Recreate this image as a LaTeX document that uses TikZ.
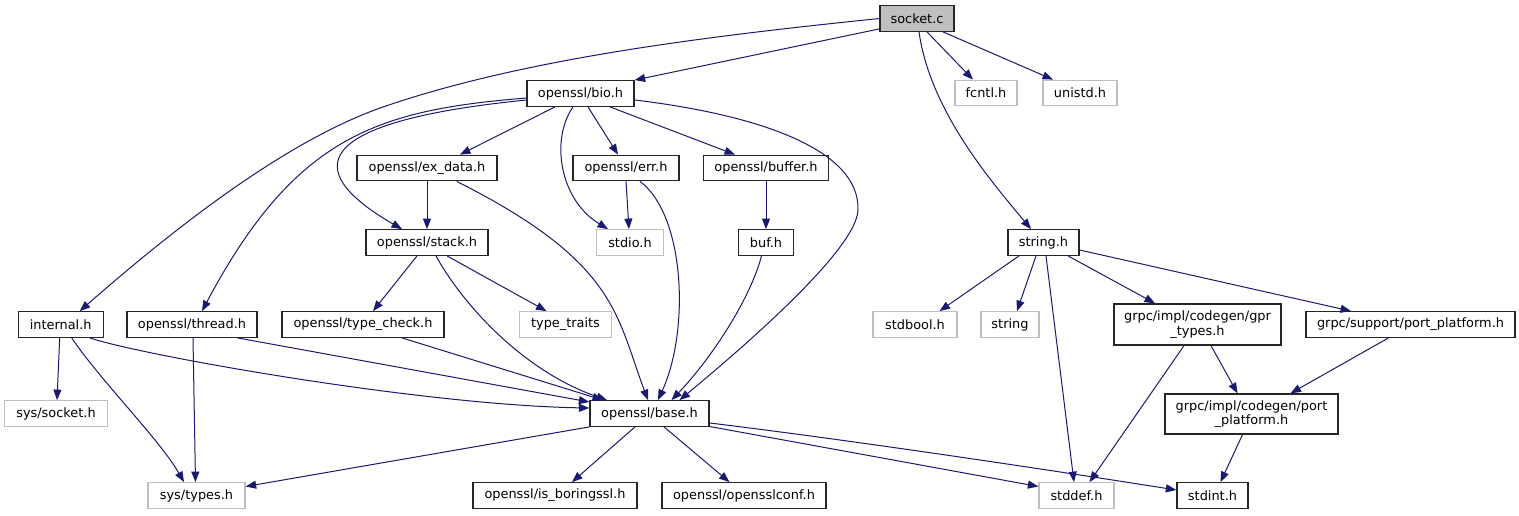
\documentclass[tikz,border=0pt]{standalone}
\usepackage{fontspec}
\setmainfont{DejaVu Sans}
\usetikzlibrary{arrows.meta}
\definecolor{edgeblue}{HTML}{191970}
\definecolor{sysgray}{HTML}{BFBFBF}
\begin{document}
\begin{tikzpicture}[x=1pt, y=-1pt,
  hdr/.style={draw=black!85, line width=1.3pt, fill=white, inner sep=0pt, minimum height=25.5pt, font=\fontsize{12.9}{14.5}\selectfont, align=center},
  sys/.style={hdr, draw=sysgray},
  src/.style={hdr, fill=sysgray},
  dep/.style={draw=edgeblue, line width=1pt, -{Triangle[length=10.5pt,width=8pt]}}]
\useasboundingbox (0,0) rectangle (1519,515);

% nodes
\node[src, minimum width=74pt] (socket) at (917,18.5) {socket.c};
\node[hdr, minimum width=107pt] (bio) at (580.5,93.5) {openssl/bio.h};
\node[sys, minimum width=62pt] (fcntl) at (986,93) {fcntl.h};
\node[sys, minimum width=74pt] (unistd) at (1080,93) {unistd.h};
\node[hdr, minimum width=140pt] (exdata) at (427,168) {openssl/ex\_data.h};
\node[hdr, minimum width=106pt] (err) at (626,168) {openssl/err.h};
\node[hdr, minimum width=125pt] (buffer) at (766,168) {openssl/buffer.h};
\node[hdr, minimum width=122pt] (stack) at (427,242.5) {openssl/stack.h};
\node[sys, minimum width=67pt] (stdio) at (630,242.5) {stdio.h};
\node[hdr, minimum width=55pt] (buf) at (766,242.5) {buf.h};
\node[hdr, minimum width=71pt] (stringh) at (1043.5,242.5) {string.h};
\node[hdr, minimum width=85pt] (internal) at (60.7,324.5) {internal.h};
\node[hdr, minimum width=130pt] (thread) at (192,324.5) {openssl/thread.h};
\node[hdr, minimum width=162pt] (typecheck) at (363,324.5) {openssl/type\_check.h};
\node[sys, minimum width=92pt] (typetraits) at (565.5,324.5) {type\_traits};
\node[sys, minimum width=84pt] (stdbool) at (915,324.5) {stdbool.h};
\node[sys, minimum width=58pt] (string) at (1010,324.5) {string};
\node[hdr, minimum width=167pt, minimum height=41pt] (gprtypes) at (1197.5,324.5) {grpc/impl/codegen/gpr\\\_types.h};
\node[hdr, minimum width=209pt] (supportport) at (1410.5,324.5) {grpc/support/port\_platform.h};
\node[sys, minimum width=103pt] (syssocket) at (56,413.5) {sys/socket.h};
\node[hdr, minimum width=119pt] (base) at (649.5,413.5) {openssl/base.h};
\node[hdr, minimum width=173pt, minimum height=40pt] (codegenport) at (1251.5,414) {grpc/impl/codegen/port\\\_platform.h};
\node[sys, minimum width=97pt] (systypes) at (196.5,495.5) {sys/types.h};
\node[hdr, minimum width=164pt] (boringssl) at (555,495.5) {openssl/is\_boringssl.h};
\node[hdr, minimum width=164pt] (opensslconf) at (744,495.5) {openssl/opensslconf.h};
\node[sys, minimum width=75pt] (stddef) at (1076.5,495.5) {stddef.h};
\node[hdr, minimum width=71pt] (stdint) at (1212.5,495.5) {stdint.h};

% socket.c
\draw[dep] (socket.west) .. controls (710,36) and (525,58) .. (383,107) .. controls (279,143) and (160,241) .. ([xshift=19pt]internal.north);
\draw[dep] ([yshift=3pt]socket.south west) -- (bio.north east);
\draw[dep] ([xshift=10pt]socket.south) -- ([xshift=-13pt]fcntl.north);
\draw[dep] ([xshift=26pt]socket.south) -- ([xshift=-27pt]unistd.north);
\draw[dep] ([xshift=2pt]socket.south) .. controls (930,110) and (990,180) .. ([xshift=-12.5pt]stringh.north);

% openssl/bio.h
\draw[dep] ([yshift=-4.5pt]bio.west) .. controls (380,110) and (296,134) .. ([xshift=10pt]thread.north);
\draw[dep] ([yshift=-6.5pt]bio.west) .. controls (287,124) and (315,179) .. ([xshift=-25pt]stack.north);
\draw[dep] ([xshift=-25.5pt]bio.south) -- ([xshift=33pt]exdata.north);
\draw[dep] ([xshift=-7.5pt]bio.south) .. controls (550,140) and (560,200) .. ([xshift=-22pt]stdio.north);
\draw[dep] ([xshift=7.5pt]bio.south) -- ([xshift=-8pt]err.north);
\draw[dep] ([xshift=29.5pt]bio.south) -- ([xshift=-31pt]buffer.north);
\draw[dep] ([yshift=-6.5pt]bio.east) .. controls (760,115) and (860,150) .. (858,210) .. controls (856.7,250) and (740,350) .. ([xshift=30pt]base.north);

% second row
\draw[dep] (exdata) -- (stack);
\draw[dep] ([xshift=29.7pt]exdata.south) .. controls (617,262) and (616,315) .. ([xshift=-1.5pt]base.north);
\draw[dep] (err.south) -- ([xshift=-1pt]stdio.north);
\draw[dep] ([xshift=14pt]err.south) .. controls (685,215) and (690,330) .. ([xshift=8.5pt]base.north);
\draw[dep] (buffer) -- (buf);
\draw[dep] ([xshift=-4.5pt]buf.south) .. controls (750,300) and (710,360) .. ([xshift=22pt]base.north);
\draw[dep] ([xshift=9pt]stack.south) .. controls (460,300) and (520,370) .. ([xshift=-42.5pt]base.north);
\draw[dep] ([xshift=20pt]stack.south) -- ([xshift=-19pt]typetraits.north);
\draw[dep] ([xshift=-10pt]stack.south) -- ([xshift=10pt]typecheck.north);

% third row
\draw[dep] ([xshift=39pt]typecheck.south) -- ([xshift=-46.5pt]base.north);
\draw[dep] ([xshift=45.5pt]thread.south) -- ([yshift=11.5pt]base.west);
\draw[dep] ([xshift=1pt]thread.south) -- ([xshift=-1pt]systypes.north);
\draw[dep] ([xshift=29pt]internal.south) .. controls (140,355) and (420,405) .. ([yshift=5.5pt]base.west);
\draw[dep] ([xshift=-1pt]internal.south) -- ([xshift=1pt]syssocket.north);
\draw[dep] ([xshift=11pt]internal.south) .. controls (100,380) and (160,440) .. ([xshift=-12.5pt]systypes.north);

% openssl/base.h
\draw[dep] (base.south west) -- ([yshift=9pt]systypes.east);
\draw[dep] ([xshift=-14.5pt]base.south) -- ([xshift=17pt]boringssl.north);
\draw[dep] ([xshift=14.5pt]base.south) -- ([xshift=-14.5pt]opensslconf.north);
\draw[dep] ([yshift=-9.5pt]base.east) .. controls (850,440) and (1050,470) .. ([yshift=5.5pt]stdint.west);
\draw[dep] ([yshift=-13pt]base.east) -- ([yshift=9pt]stddef.west);

% string.h
\draw[dep] ([xshift=-24.5pt]stringh.south) -- ([xshift=24.5pt]stdbool.north);
\draw[dep] ([xshift=-7.5pt]stringh.south) -- ([xshift=7pt]string.north);
\draw[dep] ([xshift=2.5pt]stringh.south) -- ([xshift=-2.5pt]stddef.north);
\draw[dep] ([xshift=24.5pt]stringh.south) -- ([xshift=-42.5pt]gprtypes.north);
\draw[dep] ([yshift=-7.5pt]stringh.east) -- ([xshift=-59.5pt]supportport.north);
\draw[dep] ([xshift=-13.5pt]gprtypes.south) -- ([xshift=13pt]stddef.north);
\draw[dep] ([xshift=13.5pt]gprtypes.south) -- ([xshift=-14pt]codegenport.north);
\draw[dep] ([xshift=-22pt]supportport.south) -- ([xshift=39pt]codegenport.north);
\draw[dep] ([xshift=-9pt]codegenport.south) -- ([xshift=8pt]stdint.north);
\end{tikzpicture}
\end{document}
